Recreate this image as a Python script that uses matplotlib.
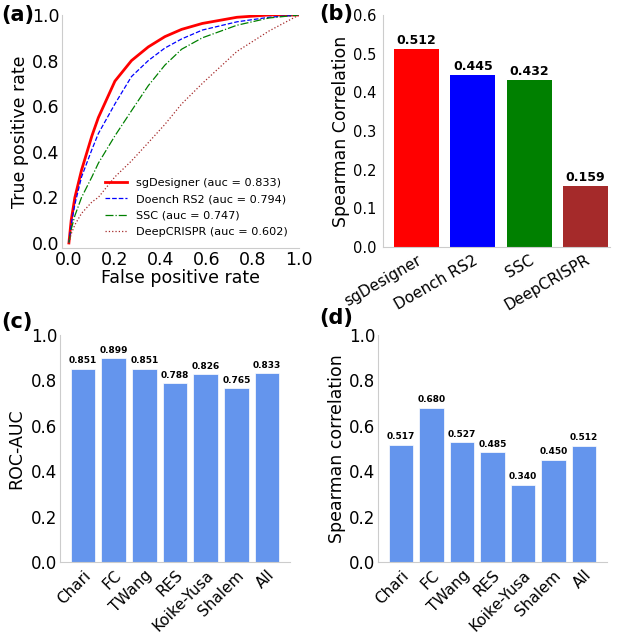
import matplotlib
matplotlib.use("Agg")
import matplotlib.pyplot as plt

# ROC curves
sg_fpr = [0, 0.01, 0.026, 0.055, 0.1, 0.128, 0.2, 0.272, 0.345, 0.417, 0.49, 0.58, 0.73, 0.87, 1.0]
sg_tpr = [0, 0.10, 0.20, 0.32, 0.47, 0.55, 0.71, 0.80, 0.86, 0.905, 0.937, 0.963, 0.99, 1.0, 1.0]
rs2_fpr = [0, 0.01, 0.026, 0.055, 0.1, 0.128, 0.2, 0.272, 0.345, 0.417, 0.49, 0.58, 0.73, 0.87, 1.0]
rs2_tpr = [0, 0.08, 0.17, 0.29, 0.41, 0.48, 0.61, 0.73, 0.80, 0.855, 0.895, 0.934, 0.97, 0.99, 1.0]
ssc_fpr = [0, 0.01, 0.026, 0.055, 0.1, 0.128, 0.2, 0.272, 0.345, 0.417, 0.49, 0.58, 0.73, 0.87, 1.0]
ssc_tpr = [0, 0.06, 0.12, 0.20, 0.29, 0.35, 0.47, 0.58, 0.69, 0.78, 0.85, 0.90, 0.955, 0.987, 1.0]
deep_fpr = [0, 0.01, 0.026, 0.055, 0.1, 0.128, 0.2, 0.272, 0.345, 0.417, 0.49, 0.58, 0.73, 0.87, 1.0]
deep_tpr = [0, 0.04, 0.08, 0.13, 0.18, 0.20, 0.29, 0.36, 0.44, 0.52, 0.61, 0.70, 0.84, 0.93, 1.0]

# panel (b)
models = ["sgDesigner", "Doench RS2", "SSC", "DeepCRISPR"]
model_spearman = [0.512, 0.445, 0.432, 0.159]
model_colors = ["red", "blue", "green", "brown"]

# panels (c) and (d)
datasets = ["Chari", "FC", "TWang", "RES", "Koike-Yusa", "Shalem", "All"]
dataset_auc = [0.851, 0.899, 0.851, 0.788, 0.826, 0.765, 0.833]
dataset_spearman = [0.517, 0.680, 0.527, 0.485, 0.340, 0.450, 0.512]

W, H = 624, 634
fig = plt.figure(figsize=(W / 100, H / 100), dpi=100)


def add_ax(left, right, top, bottom):
    return fig.add_axes([left / W, 1 - bottom / H, (right - left) / W, (bottom - top) / H])


def style(ax, size=12, ypad=2):
    for s in ["top", "right"]:
        ax.spines[s].set_visible(False)
    for s in ["left", "bottom"]:
        ax.spines[s].set_color("#cccccc")
    ax.tick_params(length=0, labelsize=size, pad=4)
    ax.tick_params(axis="y", pad=ypad)


# (a) ROC
ax = add_ax(62, 299, 15, 248)
ax.plot(sg_fpr, sg_tpr, color="red", lw=2, label="sgDesigner (auc = 0.833)")
ax.plot(rs2_fpr, rs2_tpr, color="blue", lw=0.9, ls="--", label="Doench RS2 (auc = 0.794)")
ax.plot(ssc_fpr, ssc_tpr, color="green", lw=0.9, ls="-.", label="SSC (auc = 0.747)")
ax.plot(deep_fpr, deep_tpr, color="brown", lw=0.9, ls=":", label="DeepCRISPR (auc = 0.602)")
ax.set_xlim(-0.03, 1.0)
ax.set_ylim(-0.022, 1.0)
ax.set_xticks([0, 0.2, 0.4, 0.6, 0.8, 1.0])
ax.set_yticks([0, 0.2, 0.4, 0.6, 0.8, 1.0])
style(ax, 12.5)
ax.tick_params(axis="x", pad=2)
ax.set_xlabel("False positive rate", fontsize=12.5, labelpad=0)
ax.set_ylabel("True positive rate", fontsize=12.5, labelpad=2)
ax.legend(loc="lower right", fontsize=8.1, frameon=False, handlelength=2,
          labelspacing=0.55, borderaxespad=0.6)

# (b) Spearman per model
ax = add_ax(383, 610, 15, 247)
bars = ax.bar(range(len(models)), model_spearman, width=0.8, color=model_colors)
for b, v in zip(bars, model_spearman):
    ax.text(b.get_x() + b.get_width() / 2, v + 0.005, "%.3f" % v, ha="center", va="bottom",
            fontsize=9, fontweight="bold")
ax.set_xlim(-0.6, 3.44)
ax.set_ylim(0, 0.6)
ax.set_xticks(range(len(models)))
ax.set_xticklabels(models, rotation=30, ha="right", rotation_mode="anchor")
style(ax, 10.5, ypad=5)
ax.tick_params(axis="x", labelsize=11)
ax.set_ylabel("Spearman Correlation", fontsize=12.5, labelpad=2)

# (c) ROC-AUC per dataset
ax = add_ax(60, 290, 335, 562)
bars = ax.bar(range(len(datasets)), dataset_auc, width=0.8, color="cornflowerblue",
              edgecolor="white", linewidth=0.5)
for b, v in zip(bars, dataset_auc):
    ax.text(b.get_x() + b.get_width() / 2, v + 0.015, "%.3f" % v, ha="center", va="bottom",
            fontsize=6.5, fontweight="bold")
ax.set_xlim(-0.75, 6.75)
ax.set_ylim(0, 1.0)
ax.set_xticks(range(len(datasets)))
ax.set_xticklabels(datasets, rotation=45, ha="right", rotation_mode="anchor")
style(ax, 12)
ax.tick_params(axis="x", labelsize=11)
ax.set_ylabel("ROC-AUC", fontsize=12.5, labelpad=4)

# (d) Spearman per dataset
ax = add_ax(378, 607, 335, 562)
bars = ax.bar(range(len(datasets)), dataset_spearman, width=0.8, color="cornflowerblue",
              edgecolor="white", linewidth=0.5)
for b, v in zip(bars, dataset_spearman):
    ax.text(b.get_x() + b.get_width() / 2, v + 0.015, "%.3f" % v, ha="center", va="bottom",
            fontsize=6.5, fontweight="bold")
ax.set_xlim(-0.75, 6.75)
ax.set_ylim(0, 1.0)
ax.set_xticks(range(len(datasets)))
ax.set_xticklabels(datasets, rotation=45, ha="right", rotation_mode="anchor")
style(ax, 12)
ax.tick_params(axis="x", labelsize=11)
ax.set_ylabel("Spearman correlation", fontsize=12.5, labelpad=2)

# panel letters
for lbl, x, y in [("(a)", 1, 15), ("(b)", 319, 14), ("(c)", 1, 322), ("(d)", 319, 318)]:
    fig.text(x / W, 1 - y / H, lbl, fontsize=15, fontweight="bold", ha="left", va="center")

fig.savefig("out.png", dpi=100)
